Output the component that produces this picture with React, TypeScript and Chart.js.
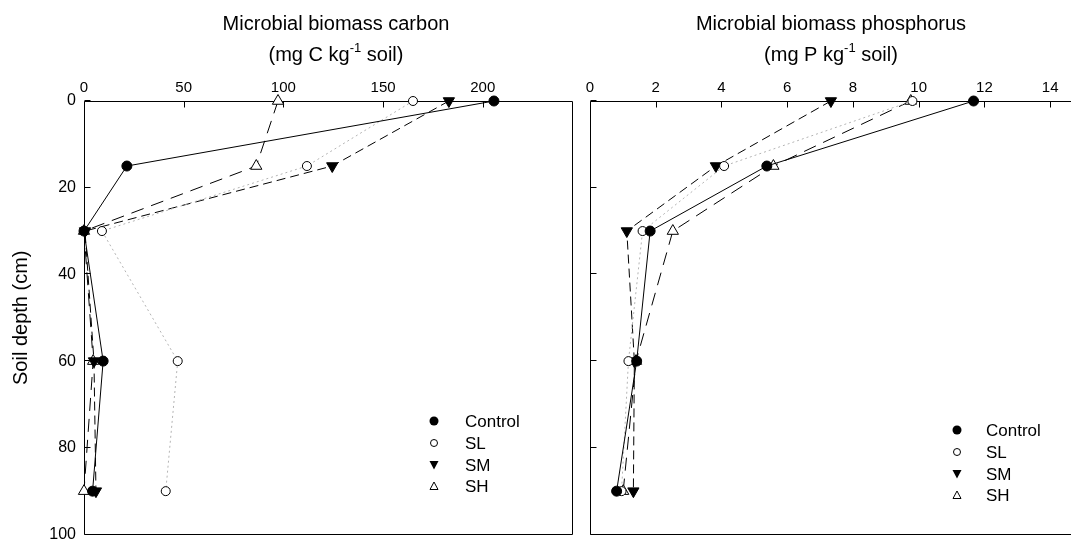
import React, { useEffect, useRef } from 'react';
import { Chart, registerables } from 'chart.js';

Chart.register(...registerables);

const FONT = '"Liberation Sans", Arial, Helvetica, sans-serif';

// ---- data ----
const depths = [0, 15, 30, 60, 90];
const seriesNames = ['Control', 'SL', 'SM', 'SH'];

const carbonControl = [205.6, 21.5, 0, 9.6, 4.3];
const carbonSL = [165, 111.8, 9, 47, 41];
const carbonSM = [183, 124.5, 0.5, 5, 6];
const carbonSH = [97.3, 86.4, 0, 4.6, 0];

const phosControl = [11.67, 5.38, 1.83, 1.42, 0.81];
const phosSL = [9.81, 4.08, 1.6, 1.17, 0.96];
const phosSM = [7.33, 3.83, 1.12, 1.35, 1.32];
const phosSH = [9.76, 5.58, 2.52, 1.4, 1.01];

const depthTicks = [0, 20, 40, 60, 80, 100];
const carbonTicks = [0, 50, 100, 150, 200];
const phosTicks = [0, 2, 4, 6, 8, 10, 12, 14];

// ---- styles ----
const seriesStyle = [
  { line: '#000000', dash: [] as number[], point: 'circle', rot: 0, fill: '#000000', r: 5 },
  { line: '#b4b4b4', dash: [2, 3], point: 'circle', rot: 0, fill: '#ffffff', r: 4.5 },
  { line: '#000000', dash: [9, 5], point: 'triangle', rot: 180, fill: '#000000', r: 6.5 },
  { line: '#000000', dash: [13, 8], point: 'triangle', rot: 0, fill: '#ffffff', r: 6.5 },
];

function buildDatasets(values: number[][]) {
  return values.map((vals, i) => {
    const s = seriesStyle[i];
    return {
      label: seriesNames[i],
      data: vals.map((v, k) => ({ x: v, y: depths[k] })),
      borderColor: s.line,
      borderWidth: 1,
      borderDash: s.dash,
      pointStyle: s.point,
      pointRotation: s.rot,
      pointRadius: s.r,
      pointBackgroundColor: s.fill,
      pointBorderColor: '#000000',
      pointBorderWidth: 1,
      showLine: true,
      fill: false,
      tension: 0,
      clip: false as any,
    };
  });
}

const framePlugin = {
  id: 'frame',
  beforeDatasetsDraw(chart: any) {
    const { ctx, chartArea: a, scales } = chart;
    ctx.save();
    ctx.strokeStyle = '#000';
    ctx.lineWidth = 1;
    ctx.setLineDash([]);
    const L = Math.round(a.left) + 0.5;
    const T = Math.round(a.top) + 0.5;
    const R = Math.round(a.right) - 0.5;
    const B = Math.round(a.bottom) - 0.5;
    ctx.beginPath();
    ctx.moveTo(L, T);
    ctx.lineTo(R, T);
    ctx.lineTo(R, B);
    ctx.lineTo(L, B);
    ctx.closePath();
    ctx.stroke();
    ctx.beginPath();
    scales.x.ticks.forEach((t: any) => {
      const px = Math.round(scales.x.getPixelForValue(t.value)) + 0.5;
      ctx.moveTo(px, T);
      ctx.lineTo(px, T + 6);
    });
    scales.y.ticks.forEach((t: any) => {
      const py = Math.round(scales.y.getPixelForValue(t.value)) - 0.5;
      ctx.moveTo(L, py);
      ctx.lineTo(L + 6, py);
    });
    ctx.stroke();
    ctx.restore();
  },
};

function makeTitlePlugin(cx: number, line1: string, pre: string, sup: string, post: string) {
  return {
    id: 'titles',
    afterDraw(chart: any) {
      const ctx = chart.ctx;
      ctx.save();
      ctx.fillStyle = '#000';
      ctx.textBaseline = 'alphabetic';
      ctx.font = `20px ${FONT}`;
      ctx.textAlign = 'center';
      ctx.fillText(line1, cx, 30);
      ctx.textAlign = 'left';
      const w1 = ctx.measureText(pre).width;
      const w3 = ctx.measureText(post).width;
      ctx.font = `13px ${FONT}`;
      const w2 = ctx.measureText(sup).width;
      const x0 = cx - (w1 + w2 + w3) / 2;
      ctx.font = `20px ${FONT}`;
      ctx.fillText(pre, x0, 61);
      ctx.fillText(post, x0 + w1 + w2, 61);
      ctx.font = `13px ${FONT}`;
      ctx.fillText(sup, x0 + w1, 52);
      ctx.restore();
    },
  };
}

function makeLegendPlugin(mx: number, tx: number, rows: number[]) {
  return {
    id: 'customLegend',
    afterDraw(chart: any) {
      const ctx = chart.ctx;
      ctx.save();
      ctx.font = `17px ${FONT}`;
      ctx.textBaseline = 'middle';
      ctx.textAlign = 'left';
      ctx.lineWidth = 1;
      ctx.strokeStyle = '#000';
      seriesNames.forEach((name, i) => {
        const y = rows[i];
        ctx.beginPath();
        if (i === 0) {
          ctx.arc(mx, y, 4.5, 0, Math.PI * 2);
          ctx.fillStyle = '#000';
          ctx.fill();
        } else if (i === 1) {
          ctx.arc(mx, y, 3.5, 0, Math.PI * 2);
          ctx.fillStyle = '#fff';
          ctx.fill();
          ctx.stroke();
        } else if (i === 2) {
          ctx.moveTo(mx - 4.5, y - 4);
          ctx.lineTo(mx + 4.5, y - 4);
          ctx.lineTo(mx, y + 4.5);
          ctx.closePath();
          ctx.fillStyle = '#000';
          ctx.fill();
        } else {
          ctx.moveTo(mx - 4, y + 3.5);
          ctx.lineTo(mx + 4, y + 3.5);
          ctx.lineTo(mx, y - 4);
          ctx.closePath();
          ctx.fillStyle = '#fff';
          ctx.fill();
          ctx.stroke();
        }
        ctx.fillStyle = '#000';
        ctx.fillText(name, tx, y + 1);
      });
      ctx.restore();
    },
  };
}

function makeConfig(opts: {
  values: number[][];
  xMax: number;
  xTicks: number[];
  yWidth: number;
  showYLabels: boolean;
  padRight: number;
  plugins: any[];
}) {
  return {
    type: 'line' as const,
    data: { datasets: buildDatasets(opts.values) },
    options: {
      animation: false as const,
      responsive: false,
      maintainAspectRatio: false,
      events: [] as any[],
      layout: { padding: { left: 0, top: 0, right: opts.padRight, bottom: 7 } },
      plugins: { legend: { display: false }, tooltip: { enabled: false }, title: { display: false } },
      scales: {
        x: {
          type: 'linear' as const,
          position: 'top' as const,
          min: 0,
          max: opts.xMax,
          afterBuildTicks: (s: any) => {
            s.ticks = opts.xTicks.map((v) => ({ value: v }));
          },
          afterFit: (s: any) => {
            s.height = 101;
            s.paddingLeft = 0;
            s.paddingRight = 0;
          },
          grid: { display: false, drawTicks: false },
          border: { display: false },
          ticks: { color: '#000', font: { size: 15, family: FONT }, padding: 4, maxRotation: 0 },
        },
        y: {
          type: 'linear' as const,
          reverse: true,
          min: 0,
          max: 100,
          afterBuildTicks: (s: any) => {
            s.ticks = depthTicks.map((v) => ({ value: v }));
          },
          afterFit: (s: any) => {
            s.width = opts.yWidth;
            s.paddingTop = 0;
            s.paddingBottom = 0;
          },
          grid: { display: false, drawTicks: false },
          border: { display: false },
          ticks: { display: opts.showYLabels, color: '#000', font: { size: 16, family: FONT }, padding: 8 },
          title: opts.showYLabels
            ? { display: true, text: 'Soil depth (cm)', color: '#000', font: { size: 20, family: FONT }, padding: { top: 9, bottom: 0 } }
            : { display: false },
        },
      },
    },
    plugins: opts.plugins,
  };
}

export default function App() {
  const leftRef = useRef<HTMLCanvasElement>(null);
  const rightRef = useRef<HTMLCanvasElement>(null);

  useEffect(() => {
    const c1 = new Chart(
      leftRef.current as HTMLCanvasElement,
      makeConfig({
        values: [carbonControl, carbonSL, carbonSM, carbonSH],
        xMax: 245,
        xTicks: carbonTicks,
        yWidth: 84,
        showYLabels: true,
        padRight: 3,
        plugins: [
          framePlugin,
          makeTitlePlugin(336, 'Microbial biomass carbon', '(mg C kg', '-1', ' soil)'),
          makeLegendPlugin(434, 465, [421, 443, 465, 486]),
        ],
      }) as any
    );
    const c2 = new Chart(
      rightRef.current as HTMLCanvasElement,
      makeConfig({
        values: [phosControl, phosSL, phosSM, phosSH],
        xMax: 15,
        xTicks: phosTicks,
        yWidth: 10,
        showYLabels: false,
        padRight: 17,
        plugins: [
          framePlugin,
          makeTitlePlugin(251, 'Microbial biomass phosphorus', '(mg P kg', '-1', ' soil)'),
          makeLegendPlugin(377, 406, [430, 452, 474, 495]),
        ],
      }) as any
    );
    return () => {
      c1.destroy();
      c2.destroy();
    };
  }, []);

  return (
    <div
      style={{
        position: 'fixed',
        left: 0,
        top: 0,
        width: 1071,
        height: 542,
        overflow: 'hidden',
        background: '#fff',
      }}
    >
      <canvas ref={leftRef} width={580} height={542} style={{ position: 'absolute', left: 0, top: 0, width: 580, height: 542 }} />
      <canvas ref={rightRef} width={520} height={542} style={{ position: 'absolute', left: 580, top: 0, width: 520, height: 542 }} />
    </div>
  );
}
